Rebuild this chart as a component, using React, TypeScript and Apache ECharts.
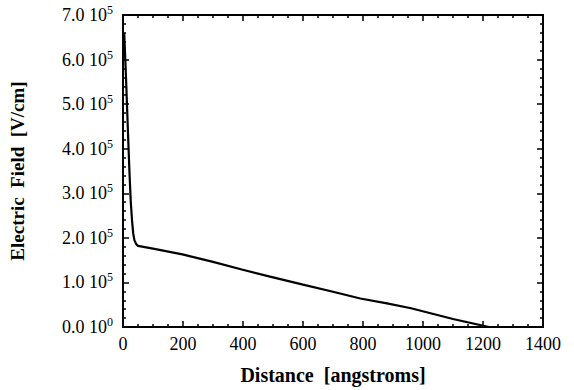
import React, { useEffect, useRef } from "react";
import * as echarts from "echarts";

const distance = [4, 7, 10, 14, 18, 22, 26, 30, 34, 38, 44, 50, 100, 198, 300, 396, 490, 600, 700, 791, 880, 960, 1100, 1220];
const fieldE5 = [6.6, 6.1, 5.6, 4.85, 4.1, 3.4, 2.8, 2.4, 2.1, 1.95, 1.86, 1.82, 1.76, 1.63, 1.46, 1.29, 1.13, 0.95, 0.79, 0.64, 0.53, 0.42, 0.18, 0];
const xTicks = [0, 200, 400, 600, 800, 1000, 1200, 1400];
const yTicksE5 = [0, 1, 2, 3, 4, 5, 6, 7];

const FONT = "'Liberation Serif', 'Times New Roman', serif";

export default function App() {
  const ref = useRef<HTMLDivElement>(null);
  useEffect(() => {
    if (!ref.current) return;
    const chart = echarts.init(ref.current, undefined, { renderer: "svg" });
    const data = distance.map((d, i) => [d, fieldE5[i] * 1e5]);
    const axisLine = { show: true, onZero: false, lineStyle: { color: "#000", width: 2 } };
    const axisTick = { show: true, inside: true, length: 6, lineStyle: { color: "#000", width: 1.5 } };
    const minorX = { show: true, splitNumber: 4, length: 3, lineStyle: { color: "#000", width: 1.5 } };
    const minorY = { show: true, splitNumber: 5, length: 3, lineStyle: { color: "#000", width: 1.5 } };
    const xBase = {
      type: "value",
      min: xTicks[0],
      max: xTicks[xTicks.length - 1],
      interval: 200,
      axisLine,
      axisTick,
      minorTick: minorX,
      splitLine: { show: false },
      minorSplitLine: { show: false },
    };
    const yBase = {
      type: "value",
      min: 0,
      max: yTicksE5[yTicksE5.length - 1] * 1e5,
      interval: 1e5,
      axisLine,
      axisTick,
      minorTick: minorY,
      splitLine: { show: false },
      minorSplitLine: { show: false },
    };
    chart.setOption({
      animation: false,
      backgroundColor: "#fff",
      grid: { left: 120, right: 31, top: 15, bottom: 63 },
      xAxis: [
        {
          ...xBase,
          position: "bottom",
          axisLabel: {
            color: "#000",
            fontFamily: FONT,
            fontSize: 18,
            margin: 8,
            formatter: (v: number) => String(v),
          },
          name: "Distance  [angstroms]",
          nameLocation: "middle",
          nameGap: 38,
          nameTextStyle: { color: "#000", fontFamily: FONT, fontSize: 20, fontWeight: "bold" },
        },
        {
          ...xBase,
          position: "top",
          axisLabel: { show: false },
        },
      ],
      yAxis: [
        {
          ...yBase,
          position: "left",
          axisLabel: {
            color: "#000",
            margin: 10,
            formatter: (v: number) => {
              const m = (v / 1e5).toFixed(1);
              const e = v === 0 ? "0" : "5";
              return `{a|${m} 10}{s|${e}}`;
            },
            rich: {
              a: { fontFamily: FONT, fontSize: 18, color: "#000" },
              s: { fontFamily: FONT, fontSize: 12, color: "#000", padding: [0, 0, 10, 0] },
            },
          },
          name: "Electric  Field  [V/cm]",
          nameLocation: "middle",
          nameGap: 96,
          nameTextStyle: { color: "#000", fontFamily: FONT, fontSize: 19, fontWeight: "bold" },
        },
        {
          ...yBase,
          position: "right",
          axisLabel: { show: false },
        },
      ],
      series: [
        {
          type: "line",
          xAxisIndex: 0,
          yAxisIndex: 0,
          data,
          showSymbol: false,
          lineStyle: { color: "#000", width: 2.2 },
        },
        {
          type: "line",
          xAxisIndex: 1,
          yAxisIndex: 1,
          data,
          showSymbol: false,
          silent: true,
          lineStyle: { opacity: 0 },
        },
      ],
    });
    return () => chart.dispose();
  }, []);
  return <div ref={ref} style={{ width: 574, height: 390, position: "absolute", left: 0, top: 0 }} />;
}
